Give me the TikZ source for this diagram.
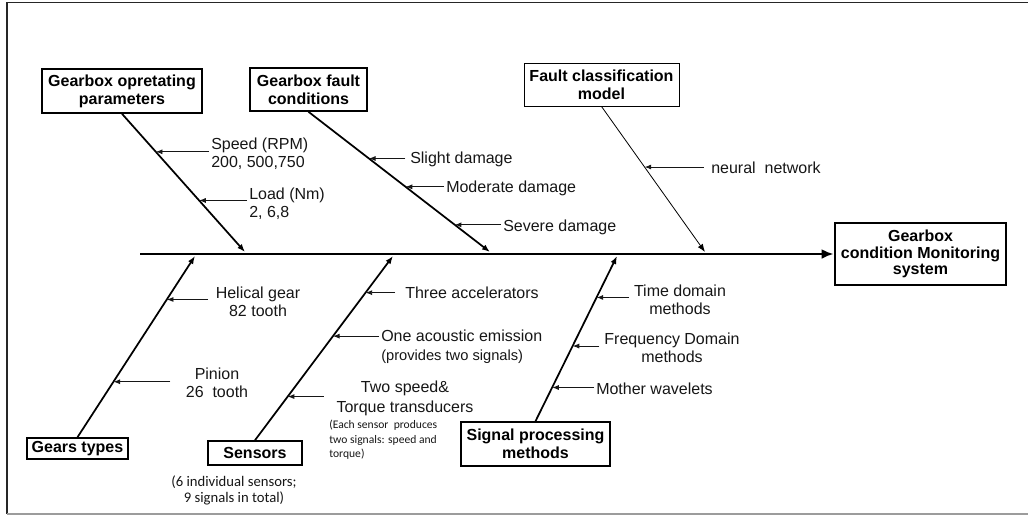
\documentclass[tikz,border=0pt]{standalone}
\usepackage{fontspec}
\setmainfont{Liberation Sans}
\newfontfamily\notefont{Carlito}
\usetikzlibrary{positioning, arrows.meta, calc}
\definecolor{ink}{HTML}{000000}
\definecolor{txt}{HTML}{161616}
\definecolor{rim}{HTML}{9c9c9c}

\begin{document}
\begin{tikzpicture}[x=0.75pt, y=-0.75pt, font=\fontsize{12}{13.5}\selectfont,
  cause/.style={draw=ink, line width=1.2pt, align=center, inner sep=1pt, font=\fontsize{12}{13.5}\selectfont\bfseries},
  effect/.style={cause, line width=2.2pt, font=\fontsize{12}{12.5}\selectfont\bfseries, minimum width=128.25pt, minimum height=46.5pt},
  item/.style={text=txt, inner sep=1.5pt},
  note/.style={text=txt, inner sep=0pt, font=\notefont\fontsize{8.7}{10.9}\selectfont},
  spine/.style={draw=ink, line width=2.2pt, -{Latex[length=9pt,width=7.5pt]}},
  branch/.style={draw=ink, line width=1.3pt, -{Latex[length=6pt,width=4.5pt]}},
  feed/.style={draw=txt, line width=0.7pt, -{Latex[length=5pt,width=3.8pt]}}]
  \useasboundingbox (0,0) rectangle (1028,515);

  % Frame
  \draw[ink!85, line width=1.2pt] (1028,2.5) -- (7,2.5) -- (7,514);
  \draw[rim, line width=1.2pt] (7,514) -- (1028,514);

  % Cause boxes
  \node[cause, minimum width=120pt, minimum height=33pt] (oper) at (122,91) {Gearbox opretating\\parameters};
  \node[cause, minimum width=87.75pt, minimum height=32.25pt] (fault) at (308.5,89.5) {Gearbox fault\\conditions};
  \node[cause, line width=0.7pt, minimum width=116.25pt, minimum height=32.25pt] (model) at (601.5,84.5) {Fault classification\\model};
  \node[cause, minimum width=75.75pt, minimum height=15.75pt] (gears) at (77.5,448.5) {Gears types};
  \node[cause, minimum width=70.5pt, minimum height=18pt] (sensors) at (255,453) {Sensors};
  \node[cause, minimum width=111.75pt, minimum height=33pt] (signal) at (535.5,444) {Signal processing\\methods};
  \node[effect] (cms) at (920.5,254) {Gearbox\\condition Monitoring\\system};

  % Spine and bones
  \coordinate (tail) at (140,254);
  \coordinate (e1) at (245,252);
  \coordinate (e2) at (490,252);
  \coordinate (e3) at (705,252);
  \coordinate (e4) at (195,256);
  \coordinate (e5) at (393,256);
  \coordinate (e6) at (617,256);
  \draw[spine] (tail) -- (cms.west);
  \draw[branch] (oper.south) -- (e1);
  \draw[branch] (fault.south) -- (e2);
  \draw[branch, line width=0.6pt] (model.south) -- (e3);
  \draw[branch] (gears.north) -- (e4);
  \draw[branch] (sensors.north) -- (e5);
  \draw[branch] (signal.north) -- (e6);

  % Points on the bones
  \coordinate (p1) at ($(oper.south)!0.275!(e1)$);
  \coordinate (p2) at ($(oper.south)!0.627!(e1)$);
  \coordinate (p3) at ($(fault.south)!0.333!(e2)$);
  \coordinate (p4) at ($(fault.south)!0.535!(e2)$);
  \coordinate (p5) at ($(fault.south)!0.806!(e2)$);
  \coordinate (p6) at ($(model.south)!0.416!(e3)$);
  \coordinate (p7) at ($(gears.north)!0.760!(e4)$);
  \coordinate (p8) at ($(gears.north)!0.306!(e4)$);
  \coordinate (p9) at ($(sensors.north)!0.801!(e5)$);
  \coordinate (p10) at ($(sensors.north)!0.565!(e5)$);
  \coordinate (p11) at ($(sensors.north)!0.237!(e5)$);
  \coordinate (p12) at ($(signal.north)!0.749!(e6)$);
  \coordinate (p13) at ($(signal.north)!0.455!(e6)$);
  \coordinate (p14) at ($(signal.north)!0.204!(e6)$);

  % Operating parameters
  \node[item, anchor=west, align=left] (speed) at (209,154) {Speed (RPM)\\200, 500,750};
  \node[item, anchor=west, align=left] (load) at (247,203.5) {Load (Nm)\\2, 6,8};
  \draw[feed] (speed.west |- p1) -- (p1);
  \draw[feed] (load.west |- p2) -- (p2);

  % Fault conditions
  \node[item, anchor=west] (slight) at (408,159) {Slight damage};
  \node[item, anchor=west] (moderate) at (444,188) {Moderate damage};
  \node[item, anchor=west] (severe) at (501,227) {Severe damage};
  \draw[feed] ([xshift=-2pt]slight.west |- p3) -- (p3);
  \draw[feed] (moderate.west |- p4) -- (p4);
  \draw[feed] (severe.west |- p5) -- (p5);

  % Classification model
  \node[item, anchor=west] (neural) at (709,168) {neural\ \ network};
  \draw[feed] ([xshift=-4pt]neural.west |- p6) -- (p6);

  % Gear types
  \node[item, align=center] (helical) at (258,301.5) {Helical gear\\82 tooth};
  \node[item, align=center] (pinion) at (217,383) {Pinion\\26\ \ tooth};
  \draw[feed] ([xshift=-4pt]helical.west |- p7) -- (p7);
  \draw[feed] ([xshift=-10pt]pinion.west |- p8) -- (p8);

  % Sensors
  \node[item, anchor=west] (accel) at (403,293) {Three accelerators};
  \node[item, anchor=west, align=left] (acoustic) at (379,347) {One acoustic emission\\[1pt]{\fontsize{11}{13}\selectfont(provides two signals)}};
  \node[item, align=center] (torque) at (405,398.5) {Two speed\&\\[1pt]Torque transducers};
  \draw[feed] ([xshift=-6pt]accel.west |- p9) -- (p9);
  \draw[feed] (acoustic.west |- p10) -- (p10);
  \draw[feed] ([xshift=-8pt]torque.west |- p11) -- (p11);
  \node[note, anchor=north west, align=left] (pairs) at (329,420) {(Each sensor\ \ produces\\two signals: speed and\\torque)};
  \node[note, align=center, font=\notefont\fontsize{11}{12}\selectfont] (count) at (234,490) {(6 individual sensors;\\9 signals in total)};

  % Signal processing
  \node[item, align=center] (timedom) at (680,299.5) {Time domain\\methods};
  \node[item, align=center] (freqdom) at (672,347.5) {Frequency Domain\\methods};
  \node[item, anchor=west] (wavelet) at (594,389) {Mother wavelets};
  \draw[feed] ([xshift=-2pt]timedom.west |- p12) -- (p12);
  \draw[feed] ([xshift=-2pt]freqdom.west |- p13) -- (p13);
  \draw[feed] (wavelet.west |- p14) -- (p14);
\end{tikzpicture}
\end{document}
